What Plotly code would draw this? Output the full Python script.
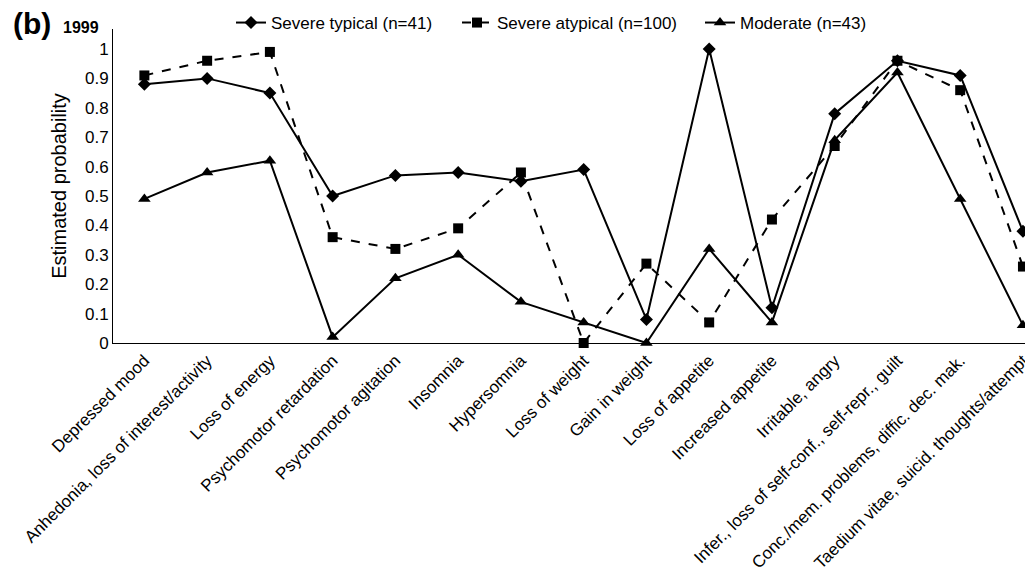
import plotly.graph_objects as go

categories = [
    "Depressed mood",
    "Anhedonia, loss of interest/activity",
    "Loss of energy",
    "Psychomotor retardation",
    "Psychomotor agitation",
    "Insomnia",
    "Hypersomnia",
    "Loss of weight",
    "Gain in weight",
    "Loss of appetite",
    "Increased appetite",
    "Irritable, angry",
    "Infer., loss of self-conf., self-repr., guilt",
    "Conc./mem. problems, diffic. dec. mak.",
    "Taedium vitae, suicid. thoughts/attempt",
]

severe_typical = [0.88, 0.90, 0.85, 0.50, 0.57, 0.58, 0.55, 0.59, 0.08, 1.00, 0.12, 0.78, 0.96, 0.91, 0.38]
severe_atypical = [0.91, 0.96, 0.99, 0.36, 0.32, 0.39, 0.58, 0.00, 0.27, 0.07, 0.42, 0.67, 0.96, 0.86, 0.26]
moderate = [0.49, 0.58, 0.62, 0.02, 0.22, 0.30, 0.14, 0.07, 0.00, 0.32, 0.07, 0.69, 0.92, 0.49, 0.06]

series_names = ["Severe typical (n=41)", "Severe atypical (n=100)", "Moderate (n=43)"]
y_ticks = [0, 0.1, 0.2, 0.3, 0.4, 0.5, 0.6, 0.7, 0.8, 0.9, 1]
y_tick_labels = ["0", "0.1", "0.2", "0.3", "0.4", "0.5", "0.6", "0.7", "0.8", "0.9", "1"]

x_idx = list(range(len(categories)))

# page body has an 8px margin; figure is sized so it fills the window
OFF = 8
W_total, H_total = 1033 - OFF, 577 - OFF
m_l, m_r, m_t, m_b = 113 - OFF, 0, 29 - OFF, 577 - 343
PW = W_total - m_l - m_r
PH = H_total - m_t - m_b


def px_x(px):
    return (px - OFF - m_l) / PW


def px_y(py):
    return (H_total - m_b - (py - OFF)) / PH


def cx(px):
    return (px - OFF) / W_total


def cy(py):
    return 1 - (py - OFF) / H_total


fig = go.Figure()
fig.add_trace(go.Scatter(
    x=x_idx, y=severe_typical, name=series_names[0], mode="lines+markers",
    line=dict(color="black", width=2, dash="solid"), legend="legend",
    marker=dict(symbol="diamond", size=10, color="black"), cliponaxis=False))
fig.add_trace(go.Scatter(
    x=x_idx, y=severe_atypical, name=series_names[1], mode="lines+markers",
    line=dict(color="black", width=2, dash="dash"), legend="legend2",
    marker=dict(symbol="square", size=10, color="black"), cliponaxis=False))
fig.add_trace(go.Scatter(
    x=x_idx, y=moderate, name=series_names[2], mode="lines+markers",
    line=dict(color="black", width=2, dash="solid"), legend="legend3",
    marker=dict(symbol="triangle-up", size=11, color="black"), cliponaxis=False))


def leg(px):
    return dict(orientation="h", x=cx(px), xanchor="left",
                xref="container", yref="container",
                y=cy(23), yanchor="middle",
                font=dict(size=17), bgcolor="rgba(0,0,0,0)")


fig.update_layout(
    width=W_total, height=H_total,
    margin=dict(l=m_l, r=m_r, t=m_t, b=m_b, autoexpand=False),
    plot_bgcolor="white", paper_bgcolor="white",
    font=dict(family="Liberation Sans, Arial, sans-serif", size=16, color="black"),
    showlegend=True,
    legend=leg(231), legend2=leg(457), legend3=leg(700),
    xaxis=dict(
        range=[-0.5, 14.16], tickmode="array", tickvals=x_idx, ticktext=categories,
        tickangle=-45, showgrid=False, zeroline=False, showline=True, automargin=False,
        linecolor="black", linewidth=1, ticks="", tickfont=dict(size=17)),
    yaxis=dict(
        range=[0, 1.068], tickmode="array", tickvals=y_ticks, ticktext=y_tick_labels,
        showgrid=False, zeroline=False, showline=True, linecolor="black", linewidth=1,
        ticks="", tickfont=dict(size=17), automargin=False,
        title=dict(text="Estimated probability", font=dict(size=20), standoff=12)),
)

fig.add_annotation(text="<b>(b)</b>", x=px_x(11), y=px_y(23),
                   xref="paper", yref="paper", xanchor="left", yanchor="middle",
                   showarrow=False, font=dict(size=30))
fig.add_annotation(text="<b>1999</b>", x=px_x(61), y=px_y(27),
                   xref="paper", yref="paper", xanchor="left", yanchor="middle",
                   showarrow=False, font=dict(size=16))

fig.write_html("out.html")
